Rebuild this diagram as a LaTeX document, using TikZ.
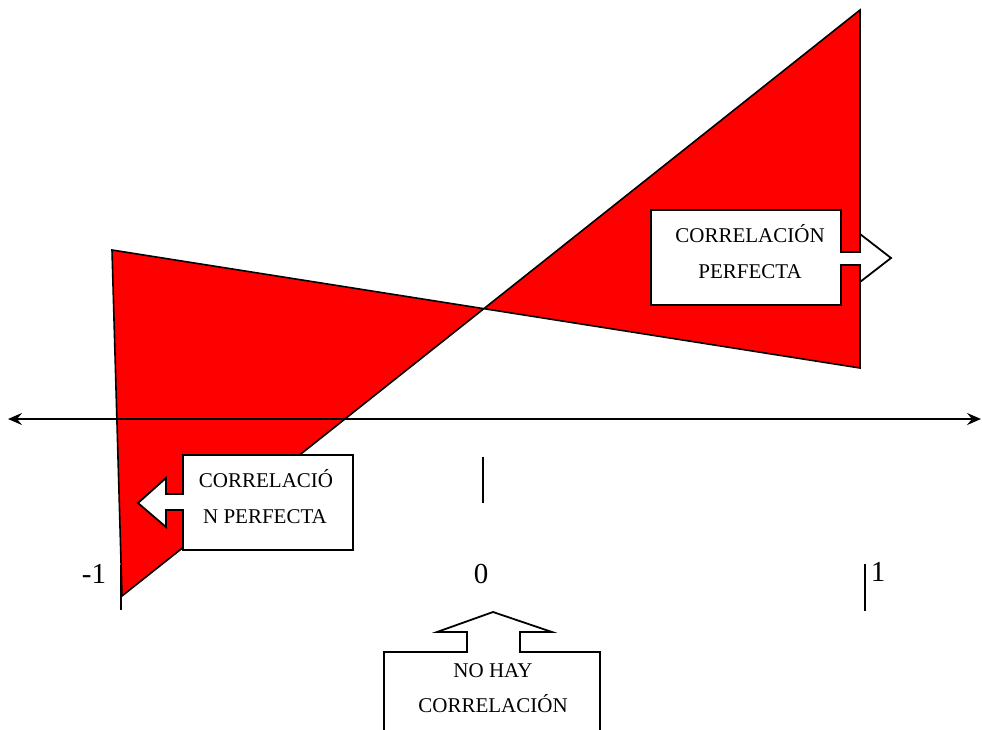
\documentclass[tikz,border=0pt]{standalone}
\usepackage{fontspec}
\setmainfont{Liberation Serif}
\usetikzlibrary{arrows.meta}
\begin{document}
\begin{tikzpicture}[x=1pt,y=-1pt,
  shapeline/.style={draw=black, line width=1.6pt, line join=miter},
  callout/.style={draw=black, fill=white, line width=1.8pt, line join=miter},
  lbl/.style={font=\fontsize{21}{24}\selectfont, anchor=base, inner sep=0pt},
  num/.style={font=\fontsize{29}{32}\selectfont, anchor=base, inner sep=0pt},
  tick/.style={draw=black, line width=1.8pt}]
\useasboundingbox (0,0) rectangle (982,729);
% red bow-tie
\coordinate (BL) at (122,596);
\coordinate (TR) at (860,10);
\coordinate (BR) at (860,368);
\coordinate (TL) at (112,250);
\draw[shapeline, fill=red] (BL) -- (TR) -- (BR) -- (TL) -- cycle;
% axis
\coordinate (AL) at (8,419);
\coordinate (AR) at (981,419);
\draw[line width=1.8pt, {Stealth[length=14pt,width=12pt,inset=5pt]}-{Stealth[length=14pt,width=12pt,inset=5pt]}] (AL) -- (AR);
% ticks
\coordinate (T0a) at (483,457); \coordinate (T0b) at (483,503);
\coordinate (Tma) at (121,565); \coordinate (Tmb) at (121,610);
\coordinate (Tpa) at (865,564); \coordinate (Tpb) at (865,611);
\draw[tick] (T0a) -- (T0b);
\draw[tick] (Tma) -- (Tmb);
\draw[tick] (Tpa) -- (Tpb);
% numbers
\node[num] (nm1) at (94,583) {-1};
\node[num] (n0) at (481,583) {0};
\node[num] (n1) at (878,581) {1};
% right callout
\draw[callout] (651,210) -- (841,210) -- (841,252) -- (860,252) -- (860,234) -- (891,258) -- (860,282) -- (860,265) -- (841,265) -- (841,305) -- (651,305) -- cycle;
\node[lbl] (r1) at (750,242) {CORRELACIÓN};
\node[lbl] (r2) at (750,278) {PERFECTA};
% left callout
\draw[callout] (353,455) -- (183,455) -- (183,494) -- (166,494) -- (166,478) -- (138,503) -- (166,527) -- (166,510) -- (183,510) -- (183,550) -- (353,550) -- cycle;
\node[lbl] (l1) at (266,487) {CORRELACIÓ};
\node[lbl] (l2) at (265,523) {N PERFECTA};
% bottom callout
\draw[callout] (384,732) -- (384,652) -- (467,652) -- (467,632) -- (437,632) -- (493,612) -- (552,632) -- (520,632) -- (520,652) -- (600,652) -- (600,732);
\node[lbl] (b1) at (493,677) {NO HAY};
\node[lbl] (b2) at (493,712) {CORRELACIÓN};
\end{tikzpicture}
\end{document}
